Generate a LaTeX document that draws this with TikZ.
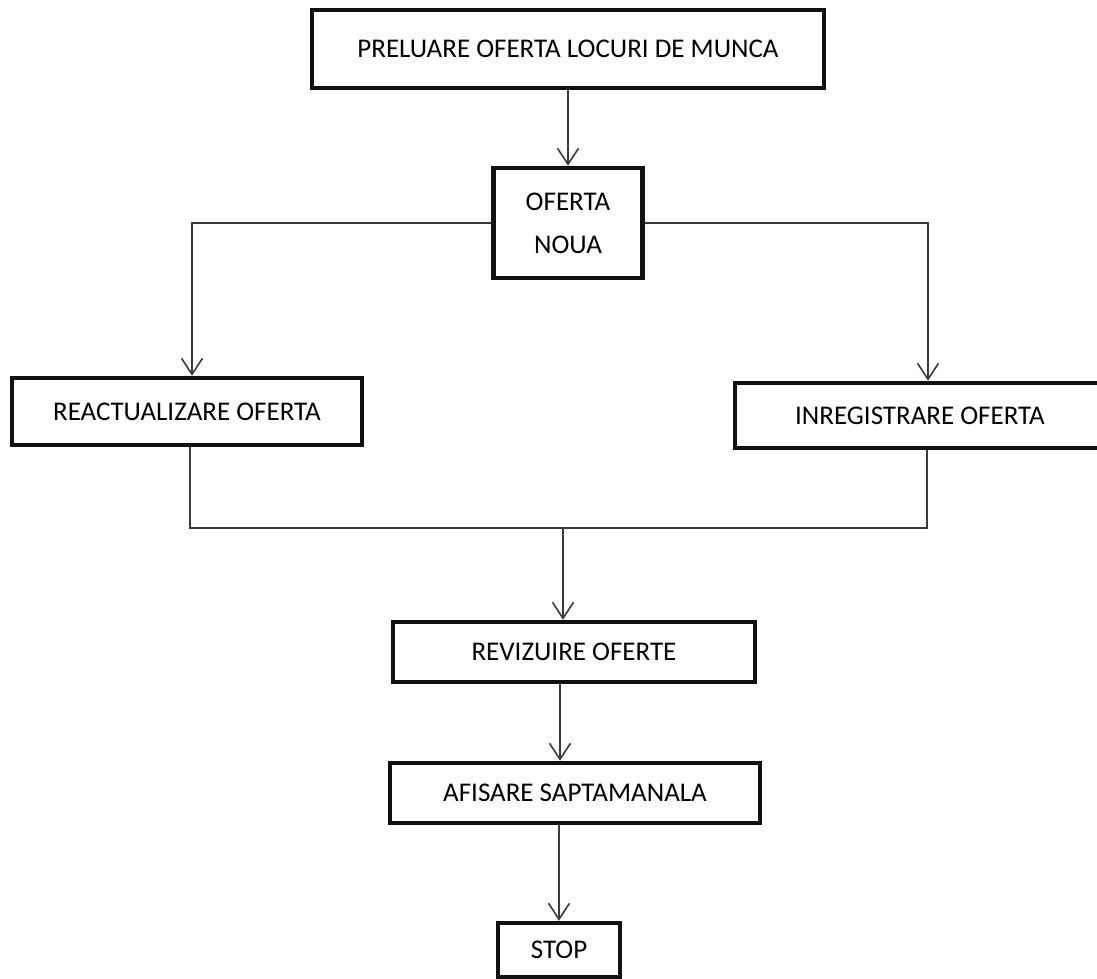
\documentclass[tikz,border=0pt]{standalone}
\usepackage{fontspec}
\setmainfont{Carlito}
\usetikzlibrary{positioning,arrows.meta}
\definecolor{frame}{HTML}{111111}
\definecolor{wire}{HTML}{3A3A3A}

\begin{document}
\begin{tikzpicture}[x=1pt, y=-1pt,
  box/.style={draw=frame, line width=4.5pt, fill=white, inner sep=0pt, align=center, font=\fontsize{27}{43}\selectfont},
  link/.style={draw=wire, line width=1.6pt},
  arrow/.style={link, -{Straight Barb[length=16pt, width=21pt, line width=1.6pt]}}]
\useasboundingbox (0,0) rectangle (1097,979);
\clip (0,0) rectangle (1097,979);
\node[box, minimum width=512pt, minimum height=78pt] (pre) at (568,49) {PRELUARE OFERTA LOCURI DE MUNCA};
\node[box, minimum width=149pt, minimum height=110pt] (noua) at (568,223) {OFERTA\\NOUA};
\node[box, minimum width=350pt, minimum height=67pt] (react) at (187,411.5) {REACTUALIZARE OFERTA};
\node[box, minimum width=370pt, minimum height=65pt] (inreg) at (920,415.5) {INREGISTRARE OFERTA};
\node[box, minimum width=362pt, minimum height=60pt] (reviz) at (574,652) {REVIZUIRE OFERTE};
\node[box, minimum width=370pt, minimum height=60pt] (afis) at (575,793) {AFISARE SAPTAMANALA};
\node[box, minimum width=122pt, minimum height=54pt] (stop) at (559,950) {STOP};
\coordinate (merge) at (563,528);
% connectors
\draw[arrow] (pre.south) -- (noua.north);
\draw[arrow] (noua.west) -| ([xshift=5pt]react.north);
\draw[arrow] (noua.east) -| ([xshift=8pt]inreg.north);
\draw[link] ([xshift=3pt]react.south) |- (merge) -| ([xshift=7pt]inreg.south);
\draw[arrow] (merge) -- (merge |- reviz.north);
\draw[arrow] ([xshift=-14pt]reviz.south) -- ([xshift=-15pt]afis.north);
\draw[arrow] (afis.south -| stop) -- (stop.north);
\end{tikzpicture}
\end{document}
